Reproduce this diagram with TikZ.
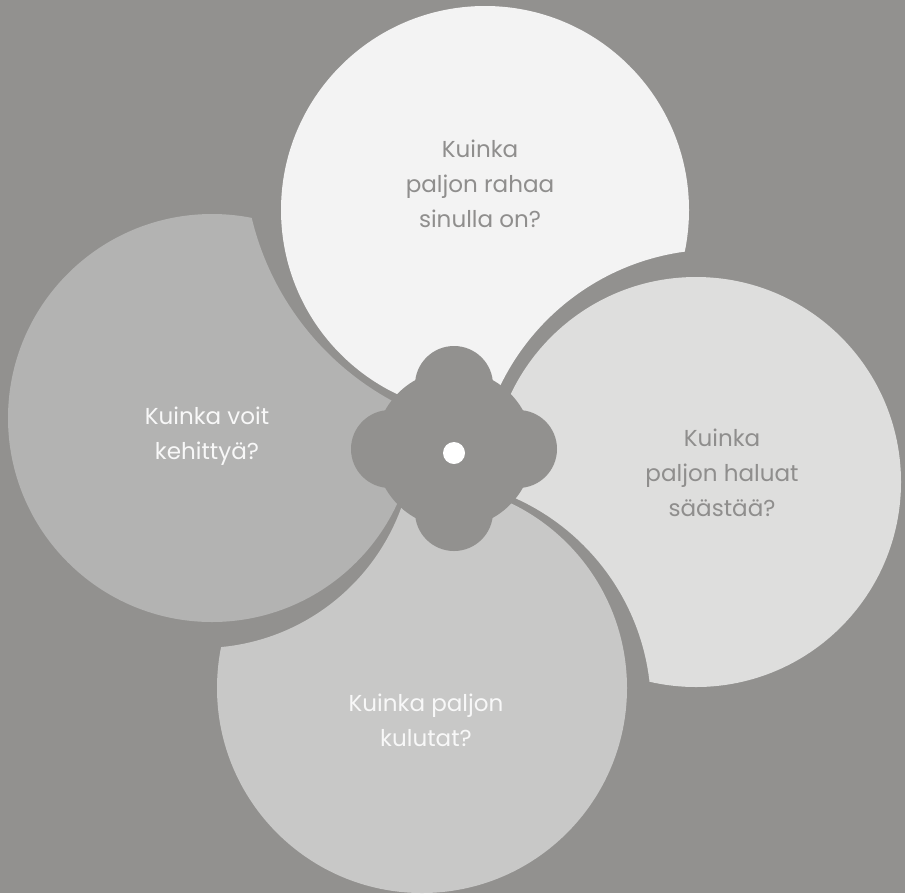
\documentclass[tikz,border=0pt]{standalone}
\usepackage{fontspec}
\setmainfont{Poppins}
\definecolor{bgc}{HTML}{92918F}
\definecolor{ptop}{HTML}{F3F3F3}
\definecolor{pright}{HTML}{DEDEDD}
\definecolor{pbottom}{HTML}{C8C8C7}
\definecolor{pleft}{HTML}{B3B3B2}
\definecolor{darktext}{HTML}{8F8E8D}
\definecolor{lighttext}{HTML}{F8F8F8}
\tikzset{
  label/.style={align=center, anchor=base, inner sep=0pt,
    font=\fontsize{17.3pt}{26.25pt}\selectfont},
  hole/.style={fill=bgc},
}
\begin{document}
\begin{tikzpicture}[x=0.75pt,y=-0.75pt]
\useasboundingbox (0,0) rectangle (905,893);
\fill[bgc] (0,0) rectangle (905,893);
% top petal, cut by right petal
\begin{scope}[even odd rule]
  \clip (-10,-10) rectangle (915,903) (717,490) circle[radius=240.5];
  \fill[ptop] (485,210) circle[radius=204];
\end{scope}
% right petal, cut by bottom petal
\begin{scope}[even odd rule]
  \clip (-10,-10) rectangle (915,903) (421,708) circle[radius=230];
  \fill[pright] (696,482) circle[radius=205];
\end{scope}
% bottom petal, cut by left petal
\begin{scope}[even odd rule]
  \clip (-10,-10) rectangle (915,903) (201,435) circle[radius=213];
  \fill[pbottom] (422,688) circle[radius=205];
\end{scope}
% left petal, cut by top petal
\begin{scope}[even odd rule]
  \clip (-10,-10) rectangle (915,903) (527,152) circle[radius=283];
  \fill[pleft] (212,418) circle[radius=204];
\end{scope}
% central four-lobed hole
\fill[hole] (454,449) circle[radius=79];
\fill[hole] (454,385) circle[radius=39];
\fill[hole] (518,449) circle[radius=39];
\fill[hole] (454,512) circle[radius=39];
\fill[hole] (390,449) circle[radius=39];
\node[circle, fill=white, minimum size=16.5pt, inner sep=0pt] (dot) at (454,453) {};
% texts (anchor base = baseline of last line)
\node[label, text=darktext] (ttop) at (480,227) {Kuinka\\paljon rahaa\\sinulla on?};
\node[label, text=darktext] (tright) at (722,516) {Kuinka\\paljon haluat\\säästää?};
\node[label, text=lighttext] (tbottom) at (426,746) {Kuinka paljon\\kulutat?};
\node[label, text=lighttext] (tleft) at (207,459) {Kuinka voit\\kehittyä?};
\end{tikzpicture}
\end{document}
